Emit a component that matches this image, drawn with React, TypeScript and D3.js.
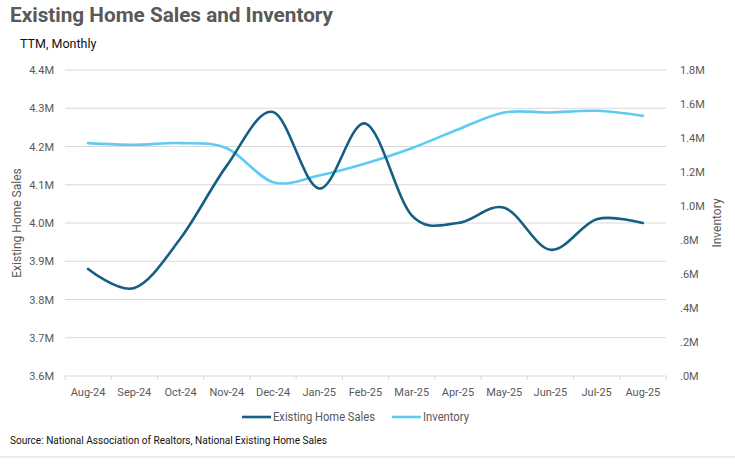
import React, { useEffect, useRef } from "react";
import * as d3 from "d3";

const months = [
  "Aug-24", "Sep-24", "Oct-24", "Nov-24", "Dec-24", "Jan-25", "Feb-25",
  "Mar-25", "Apr-25", "May-25", "Jun-25", "Jul-25", "Aug-25"
];
// millions
const sales = [3.88, 3.83, 3.96, 4.15, 4.29, 4.09, 4.26, 4.02, 4.0, 4.04, 3.93, 4.01, 4.0];
const inventory = [1.37, 1.36, 1.37, 1.34, 1.14, 1.18, 1.25, 1.34, 1.45, 1.55, 1.55, 1.56, 1.53];
const leftTicks = [3.6, 3.7, 3.8, 3.9, 4.0, 4.1, 4.2, 4.3, 4.4];
const rightTicks = [0, 0.2, 0.4, 0.6, 0.8, 1.0, 1.2, 1.4, 1.6, 1.8];

const W = 735;
const H = 475;
const FONT = "Roboto, 'Noto Sans', sans-serif";
const salesColor = "#155f82";
const invColor = "#5fcbf5";

const App: React.FC = () => {
  const ref = useRef<SVGSVGElement>(null);

  useEffect(() => {
    if (ref.current === null) return;
    const svg = d3.select(ref.current);
    svg.selectAll("*").remove();

    // create margins & dimensions
    const margin = { top: 70, right: 69, bottom: 99, left: 65 };
    const gw = W - margin.left - margin.right;
    const gh = H - margin.top - margin.bottom;

    const x = d3.scaleBand().domain(months).range([0, gw]);
    const yL = d3.scaleLinear().domain([3.6, 4.4]).range([gh, 0]);
    const yR = d3.scaleLinear().domain([0, 1.8]).range([gh, 0]);

    svg.append("rect").attr("width", W).attr("height", H).attr("fill", "#fff");

    svg.append("text")
      .attr("x", 10).attr("y", 22)
      .attr("font-family", FONT).attr("font-weight", 700).attr("font-size", 20)
      .attr("fill", "#595959")
      .attr("textLength", 323).attr("lengthAdjust", "spacingAndGlyphs")
      .text("Existing Home Sales and Inventory");

    svg.append("text")
      .attr("x", 20).attr("y", 48)
      .attr("font-family", FONT).attr("font-size", 12.5)
      .attr("fill", "#111")
      .text("TTM, Monthly");

    const g = svg.append("g").attr("transform", `translate(${margin.left},${margin.top})`);

    // gridlines
    g.selectAll("line.grid")
      .data(leftTicks)
      .enter()
      .append("line")
      .attr("x1", 0).attr("x2", gw)
      .attr("y1", d => yL(d)).attr("y2", d => yL(d))
      .attr("stroke", "#d9d9d9").attr("stroke-width", 1);

    // x axis ticks
    const edges = months.map(m => x(m) as number).concat([gw]);
    g.selectAll("line.xt")
      .data(edges)
      .enter()
      .append("line")
      .attr("x1", d => d).attr("x2", d => d)
      .attr("y1", gh).attr("y2", gh + 4)
      .attr("stroke", "#d9d9d9");

    g.selectAll("text.xl")
      .data(months)
      .enter()
      .append("text")
      .attr("x", d => (x(d) as number) + x.bandwidth() / 2)
      .attr("y", gh + 20)
      .attr("text-anchor", "middle")
      .attr("font-family", FONT).attr("font-size", 11)
      .attr("fill", "#595959")
      .text(d => d);

    g.selectAll("text.yl")
      .data(leftTicks)
      .enter()
      .append("text")
      .attr("x", -11)
      .attr("y", d => yL(d) + 4)
      .attr("text-anchor", "end")
      .attr("font-family", FONT).attr("font-size", 11)
      .attr("fill", "#595959")
      .text(d => d.toFixed(1) + "M");

    g.selectAll("text.yr")
      .data(rightTicks)
      .enter()
      .append("text")
      .attr("x", gw + 14)
      .attr("y", d => yR(d) + 4)
      .attr("text-anchor", "start")
      .attr("font-family", FONT).attr("font-size", 11)
      .attr("fill", "#595959")
      .text(d => (d >= 1 ? d.toFixed(1) : d.toFixed(1).replace(/^0/, "")) + "M");

    // axis titles
    svg.append("text")
      .attr("transform", `translate(21,${margin.top + gh / 2}) rotate(-90)`)
      .attr("text-anchor", "middle")
      .attr("font-family", FONT).attr("font-size", 12)
      .attr("fill", "#595959")
      .text("Existing Home Sales");

    svg.append("text")
      .attr("transform", `translate(721,${margin.top + gh / 2}) rotate(-90)`)
      .attr("text-anchor", "middle")
      .attr("font-family", FONT).attr("font-size", 12)
      .attr("fill", "#595959")
      .text("Inventory");

    const cx = (d: string) => (x(d) as number) + x.bandwidth() / 2;

    const lineL = d3.line<number>()
      .x((_, i) => cx(months[i]))
      .y(d => yL(d))
      .curve(d3.curveCardinal.tension(0));
    const lineR = d3.line<number>()
      .x((_, i) => cx(months[i]))
      .y(d => yR(d))
      .curve(d3.curveCardinal.tension(0));

    g.append("path")
      .datum(inventory)
      .attr("d", lineR)
      .attr("fill", "none")
      .attr("stroke", invColor)
      .attr("stroke-width", 2.6)
      .attr("stroke-linecap", "round");

    g.append("path")
      .datum(sales)
      .attr("d", lineL)
      .attr("fill", "none")
      .attr("stroke", salesColor)
      .attr("stroke-width", 2.6)
      .attr("stroke-linecap", "round");

    // legend
    const legend = [
      { name: "Existing Home Sales", color: salesColor, x: 242, w: 102 },
      { name: "Inventory", color: invColor, x: 392, w: 46 }
    ];
    legend.forEach(l => {
      svg.append("line")
        .attr("x1", l.x).attr("x2", l.x + 29)
        .attr("y1", 417).attr("y2", 417)
        .attr("stroke", l.color).attr("stroke-width", 2.6);
      svg.append("text")
        .attr("x", l.x + 31).attr("y", 421)
        .attr("font-family", FONT).attr("font-size", 12)
        .attr("fill", "#595959")
        .attr("textLength", l.w).attr("lengthAdjust", "spacingAndGlyphs")
        .text(l.name);
    });

    svg.append("text")
      .attr("x", 10).attr("y", 444)
      .attr("font-family", FONT).attr("font-size", 10.5)
      .attr("fill", "#111")
      .attr("textLength", 317).attr("lengthAdjust", "spacingAndGlyphs")
      .text("Source: National Association of Realtors, National Existing Home Sales");

    svg.append("line")
      .attr("x1", 0).attr("x2", W)
      .attr("y1", 457).attr("y2", 457)
      .attr("stroke", "#d9d9d9");
  }, []);

  return (
    <svg
      ref={ref}
      width={W}
      height={H}
      style={{ position: "absolute", left: 0, top: 0 }}
    />
  );
};

export default App;
